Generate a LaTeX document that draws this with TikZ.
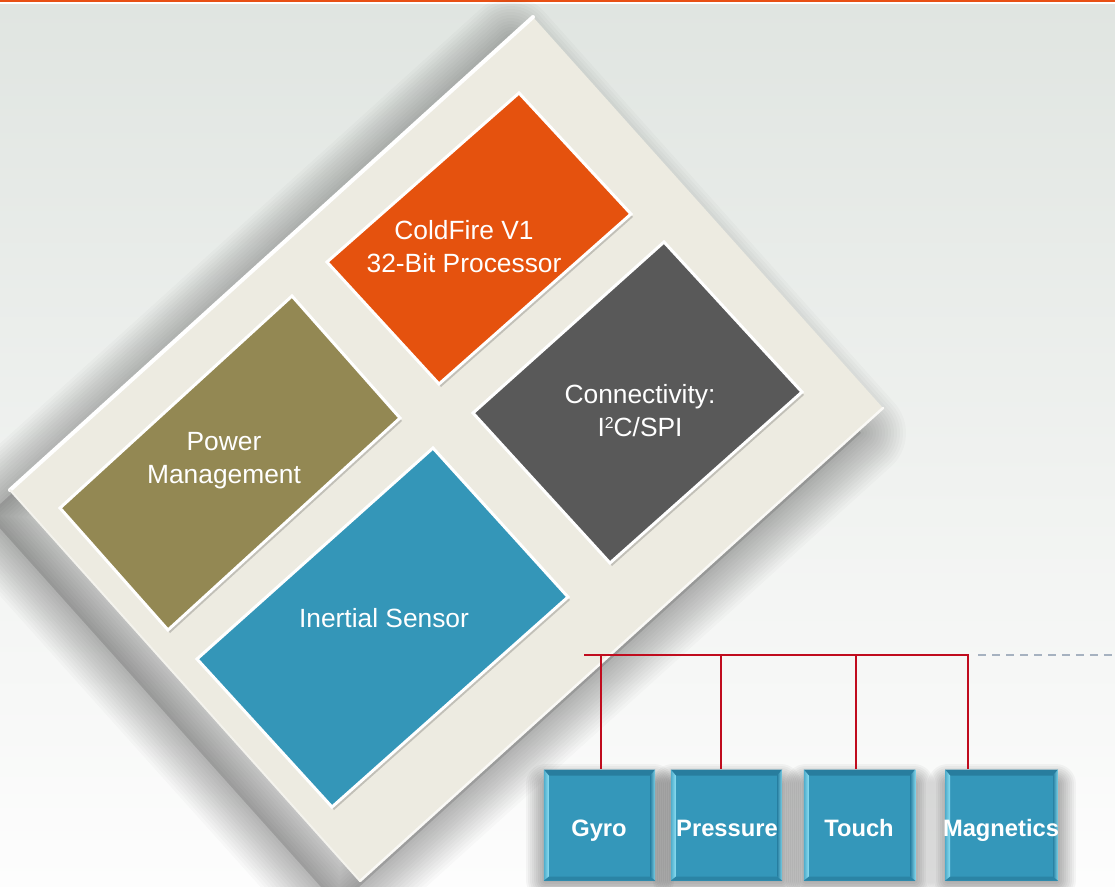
\documentclass[tikz,border=0pt]{standalone}
\usepackage{fontspec}
\setmainfont{Liberation Sans}
\definecolor{bgtop}{RGB}{224,229,225}
\definecolor{bgmid}{RGB}{240,242,240}
\definecolor{bgbot}{RGB}{253,253,253}
\definecolor{topline}{RGB}{232,80,20}
\definecolor{panel}{RGB}{237,235,225}
\definecolor{cforange}{RGB}{229,82,14}
\definecolor{pwrolive}{RGB}{147,136,83}
\definecolor{sensteal}{RGB}{52,150,184}
\definecolor{conngray}{RGB}{89,89,89}
\definecolor{busred}{RGB}{192,12,30}
\definecolor{dashgray}{RGB}{166,178,192}
\definecolor{boxteal}{RGB}{52,151,186}
\definecolor{boxdark}{RGB}{36,116,148}
\definecolor{boxlight}{RGB}{140,222,242}
\tikzset{
  panelshape/.style={insert path={(533,17)--(883,408)--(360,881)--(10,490)--cycle}},
  blockborder/.style={draw=white, line width=0.06cm, line join=miter},
  blockshadow/.style={fill=black, opacity=0.18},
  blocktext/.style={text=white, align=center, font=\fontsize{15}{18.8}\selectfont, inner sep=0pt},
  sensorbox/.style={fill=boxteal, minimum width=2.23cm, minimum height=2.22cm, inner sep=0pt,
    path picture={
      \coordinate (bnw) at (path picture bounding box.north west);
      \coordinate (bne) at (path picture bounding box.north east);
      \coordinate (bsw) at (path picture bounding box.south west);
      \coordinate (bse) at (path picture bounding box.south east);
      \fill[boxdark!75!boxteal] (bnw) -- (bne) -- ([xshift=-0.1cm,yshift=-0.12cm]bne) -- ([xshift=0.1cm,yshift=-0.12cm]bnw) -- cycle;
      \fill[boxdark!55!boxteal] (bsw) -- (bse) -- ([xshift=-0.1cm,yshift=0.08cm]bse) -- ([xshift=0.1cm,yshift=0.08cm]bsw) -- cycle;
      \shade[left color=boxteal!70!boxlight, right color=boxlight] (bnw) -- ([xshift=0.1cm,yshift=-0.12cm]bnw) -- ([xshift=0.1cm,yshift=0.08cm]bsw) -- (bsw) -- cycle;
      \shade[left color=boxdark!60!boxteal, right color=boxlight!85!boxteal] (bne) -- ([xshift=-0.1cm,yshift=-0.12cm]bne) -- ([xshift=-0.1cm,yshift=0.08cm]bse) -- (bse) -- cycle;
    }},
  sensortext/.style={text=white, font=\bfseries\fontsize{13.5}{16}\selectfont, anchor=base, inner sep=0pt},
  bus/.style={draw=busred, line width=0.04cm},
  extbus/.style={draw=dashgray, line width=0.04cm, dash pattern=on 0.16cm off 0.12cm},
}
\begin{document}
\begin{tikzpicture}[x=0.02cm,y=-0.02cm]
\useasboundingbox (0,0) rectangle (1115,886);
% background
\shade[top color=bgtop,bottom color=bgmid] (0,4) rectangle (1115,481);
\shade[top color=bgmid,bottom color=bgbot] (0,480) rectangle (1115,886);
\fill[white] (0,2) rectangle (1115,4);
\fill[topline] (0,0) rectangle (1115,2);

% panel shadow
\begin{scope}[shift={(-22,25)}]
  \fill[black, opacity=0.12, panelshape];
  \foreach \w in {6,12,...,90} {
    \draw[black, opacity=0.02, line width=\w*0.02cm, line join=round, panelshape];
  }
\end{scope}

% panel
\coordinate (pT) at (533,17);
\coordinate (pR) at (883,408);
\coordinate (pB) at (360,881);
\coordinate (pL) at (10,490);
\fill[panel] (pT)--(pR)--(pB)--(pL)--cycle;
\draw[white, line width=0.08cm, line cap=round] (pL)--(pT);
\draw[white!70!panel, line width=0.05cm, line cap=round] (pB)--(pR);
\draw[white!40!panel, line width=0.04cm, line cap=round] (pL)--(pB);

% ColdFire block
\coordinate (oT) at (519,93);
\coordinate (oR) at (631,214);
\coordinate (oB) at (439,384);
\coordinate (oL) at (327,262);
\fill[blockshadow] ([shift={(2,3)}]oT)--([shift={(2,3)}]oR)--([shift={(2,3)}]oB)--([shift={(2,3)}]oL)--cycle;
\filldraw[fill=cforange, blockborder] (oT)--(oR)--(oB)--(oL)--cycle;

% Power block
\coordinate (wT) at (292,296);
\coordinate (wR) at (400,418);
\coordinate (wB) at (168,630);
\coordinate (wL) at (60,508);
\fill[blockshadow] ([shift={(2,3)}]wT)--([shift={(2,3)}]wR)--([shift={(2,3)}]wB)--([shift={(2,3)}]wL)--cycle;
\filldraw[fill=pwrolive, blockborder] (wT)--(wR)--(wB)--(wL)--cycle;

% Inertial block
\coordinate (iT) at (433,448);
\coordinate (iR) at (568,597);
\coordinate (iB) at (332,807);
\coordinate (iL) at (197,659);
\fill[blockshadow] ([shift={(2,3)}]iT)--([shift={(2,3)}]iR)--([shift={(2,3)}]iB)--([shift={(2,3)}]iL)--cycle;
\filldraw[fill=sensteal, blockborder] (iT)--(iR)--(iB)--(iL)--cycle;

% Connectivity block
\coordinate (cT) at (664,242);
\coordinate (cR) at (802,392);
\coordinate (cB) at (610,563);
\coordinate (cL) at (473,413);
\fill[blockshadow] ([shift={(2,3)}]cT)--([shift={(2,3)}]cR)--([shift={(2,3)}]cB)--([shift={(2,3)}]cL)--cycle;
\filldraw[fill=conngray, blockborder] (cT)--(cR)--(cB)--(cL)--cycle;

% block texts
\node[blocktext] (cftext) at (464,247) {ColdFire V1\\32-Bit Processor};
\node[blocktext] (pwtext) at (224,461) {Power\\Management};
\node[blocktext] (intext) at (384,618) {Inertial Sensor};
\node[blocktext] (cntext) at (640,411) {Connectivity:\\I\raisebox{0.33em}{\fontsize{9}{9}\selectfont 2}C/SPI};

% sensor box shadows
\foreach \cx in {599.5,726.5,859.5,1001.5} {
  \begin{scope}[shift={(\cx,832)}]
    \foreach \w in {4,8,...,40} {
      \draw[black, opacity=0.035, line width=\w*0.02cm, line join=round] (-54,-48) rectangle (54,48);
    }
  \end{scope}
}

% sensor boxes
\node[sensorbox] (gyro) at (599.5,825) {};
\node[sensorbox] (pres) at (726.5,825) {};
\node[sensorbox] (touch) at (859.5,825) {};
\node[sensorbox, minimum width=2.26cm] (mag) at (1001.5,825) {};
\node[sensortext] (gyrot) at (599,836.5) {Gyro};
\node[sensortext] (prest) at (727,836.5) {Pressure};
\node[sensortext] (toucht) at (859,836.5) {Touch};
\node[sensortext] (magt) at (1001,836.5) {Magnetics};

% bus
\coordinate (busL) at (584,655);
\coordinate (busR) at (968,655);
\coordinate (d1) at (600.5,655);
\coordinate (d2) at (721,655);
\coordinate (d3) at (856,655);
\draw[bus] (busL) -- (busR) -- (busR |- mag.north);
\draw[bus] (d1) -- (d1 |- gyro.north);
\draw[bus] (d2) -- (d2 |- pres.north);
\draw[bus] (d3) -- (d3 |- touch.north);
\coordinate (dashS) at (978,655);
\coordinate (dashE) at (1115,655);
\draw[extbus] (dashS) -- (dashE);
\end{tikzpicture}
\end{document}
